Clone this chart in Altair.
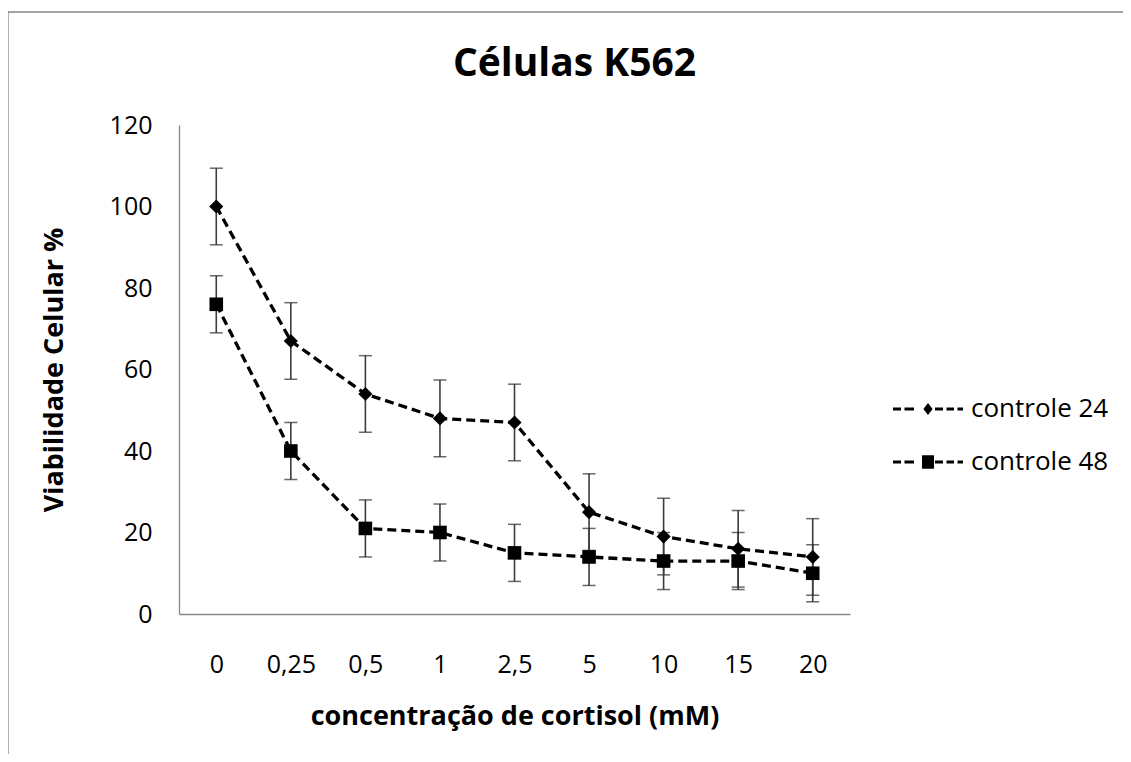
import altair as alt
import pandas as pd

# ---- data ----
categories = ["0", "0,25", "0,5", "1", "2,5", "5", "10", "15", "20"]
series_names = ["controle 24", "controle 48"]
controle_24 = [100, 67, 54, 48, 47, 25, 19, 16, 14]
erro_24 = [9.4, 9.4, 9.4, 9.4, 9.4, 9.4, 9.4, 9.4, 9.4]
controle_48 = [76, 40, 21, 20, 15, 14, 13, 13, 10]
erro_48 = [7.0, 7.0, 7.0, 7.0, 7.0, 7.0, 7.0, 7.0, 7.0]
y_ticks = [0, 20, 40, 60, 80, 100, 120]

FONT = "Open Sans"
AXIS_GRAY = "#868686"

rows = []
for name, vals, errs in [(series_names[0], controle_24, erro_24),
                         (series_names[1], controle_48, erro_48)]:
    for c, v, e in zip(categories, vals, errs):
        rows.append({"serie": name, "conc": c, "valor": v,
                     "low": v - e, "high": v + e})
df = pd.DataFrame(rows)

x_enc = alt.X("conc:O", sort=categories,
              scale=alt.Scale(type="point", padding=0.5),
              axis=alt.Axis(title="concentração de cortisol (mM)", labelAngle=0,
                            labelPadding=38, tickSize=0, ticks=False,
                            labelFontSize=25, titleFontSize=27,
                            titleFontWeight="bold", titleBaseline="alphabetic",
                            titleX=335.5, titleY=110))
y_scale = alt.Scale(domain=[0, 120], nice=False, zero=True)

base = alt.Chart(df)

err_rules = base.mark_rule(color="#3c3c3c", strokeWidth=1.6).encode(
    x=x_enc,
    y=alt.Y("low:Q", scale=y_scale,
            axis=alt.Axis(title="Viabilidade Celular %", values=y_ticks,
                          labelPadding=27, tickSize=0, ticks=False,
                          labelFontSize=25, titleFontSize=27,
                          titleFontWeight="bold", titleBaseline="alphabetic",
                          titleAngle=-90, titleX=-117, titleY=244.5)),
    y2="high:Q",
)
caps_low = base.mark_tick(orient="horizontal", size=13, thickness=1.5,
                          color="#2a2a2a").encode(x=x_enc, y=alt.Y("low:Q", scale=y_scale))
caps_high = base.mark_tick(orient="horizontal", size=13, thickness=1.5,
                           color="#2a2a2a").encode(x=x_enc, y=alt.Y("high:Q", scale=y_scale))

lines = base.mark_line(color="black", strokeWidth=3.3, strokeDash=[9, 5]).encode(
    x=x_enc, y=alt.Y("valor:Q", scale=y_scale), detail="serie:N")

points = base.mark_point(filled=True, color="black", opacity=1).encode(
    x=x_enc, y=alt.Y("valor:Q", scale=y_scale),
    shape=alt.Shape("serie:N", scale=alt.Scale(domain=series_names,
                                               range=["diamond", "square"]), legend=None),
    size=alt.Size("serie:N", scale=alt.Scale(domain=series_names, range=[200, 185]),
                  legend=None),
)

# legend symbol: dashed line with a marker, built as filled sub-paths
# (custom symbol paths use a unit of sqrt(size)/2 = 35 px)
U = 35.0
def rect(x0, x1, h):
    return (f"M{x0/U:.4f},{-h/U:.4f}L{x1/U:.4f},{-h/U:.4f}"
            f"L{x1/U:.4f},{h/U:.4f}L{x0/U:.4f},{h/U:.4f}Z")
dashes = "".join(rect(a, b, 1.6) for a, b in
                 [(-35, -27), (-23.5, -14), (7, 15), (18.5, 26), (29.5, 35)])
path_24 = dashes + f"M0,{-6/U:.4f}L{4.6/U:.4f},0L0,{6/U:.4f}L{-4.6/U:.4f},0Z"
path_48 = dashes + rect(-6, 6, 6.8)

legend_layer = base.transform_filter("false").mark_point(
    filled=True, fill="black", opacity=1).encode(
    shape=alt.Shape("serie:N",
                    scale=alt.Scale(domain=series_names, range=[path_24, path_48]),
                    legend=alt.Legend(title=None, orient="none", legendX=714, legendY=249,
                                      symbolSize=4900, symbolStrokeWidth=0,
                                      symbolFillColor="black", symbolOpacity=1,
                                      labelFont=FONT, labelFontSize=26, labelColor="black",
                                      labelOffset=8, rowPadding=5)),
)

# chart border (top and left edges visible in the reference)
one = pd.DataFrame({"k": [0]})
border_top = alt.Chart(one).mark_rule(color=AXIS_GRAY, strokeWidth=1.3).encode(
    x=alt.value(-171), x2=alt.value(1100), y=alt.value(-113))
border_left = alt.Chart(one).mark_rule(color=AXIS_GRAY, strokeWidth=1.3).encode(
    x=alt.value(-171), y=alt.value(-113), y2=alt.value(700))

chart = alt.layer(
    border_top, border_left, err_rules, caps_low, caps_high, lines, points, legend_layer
).resolve_scale(
    shape="independent", size="independent"
).properties(
    width=671, height=489,
    padding={"left": 171, "top": 117, "right": 273, "bottom": 140},
    autosize=alt.AutoSizeParams(type="none"),
    title=alt.TitleParams("Células K562", font=FONT, fontSize=39, fontWeight="bold",
                          color="black", anchor="middle", frame="group",
                          baseline="alphabetic", offset=0, dx=60, dy=104),
    background="white",
).configure_view(stroke=None).configure_axis(
    labelFont=FONT, titleFont=FONT, labelColor="black", titleColor="black",
    domainColor=AXIS_GRAY, domainWidth=1.3, grid=False,
)

chart.save("out.html", embed_options={"renderer": "svg", "actions": False})
